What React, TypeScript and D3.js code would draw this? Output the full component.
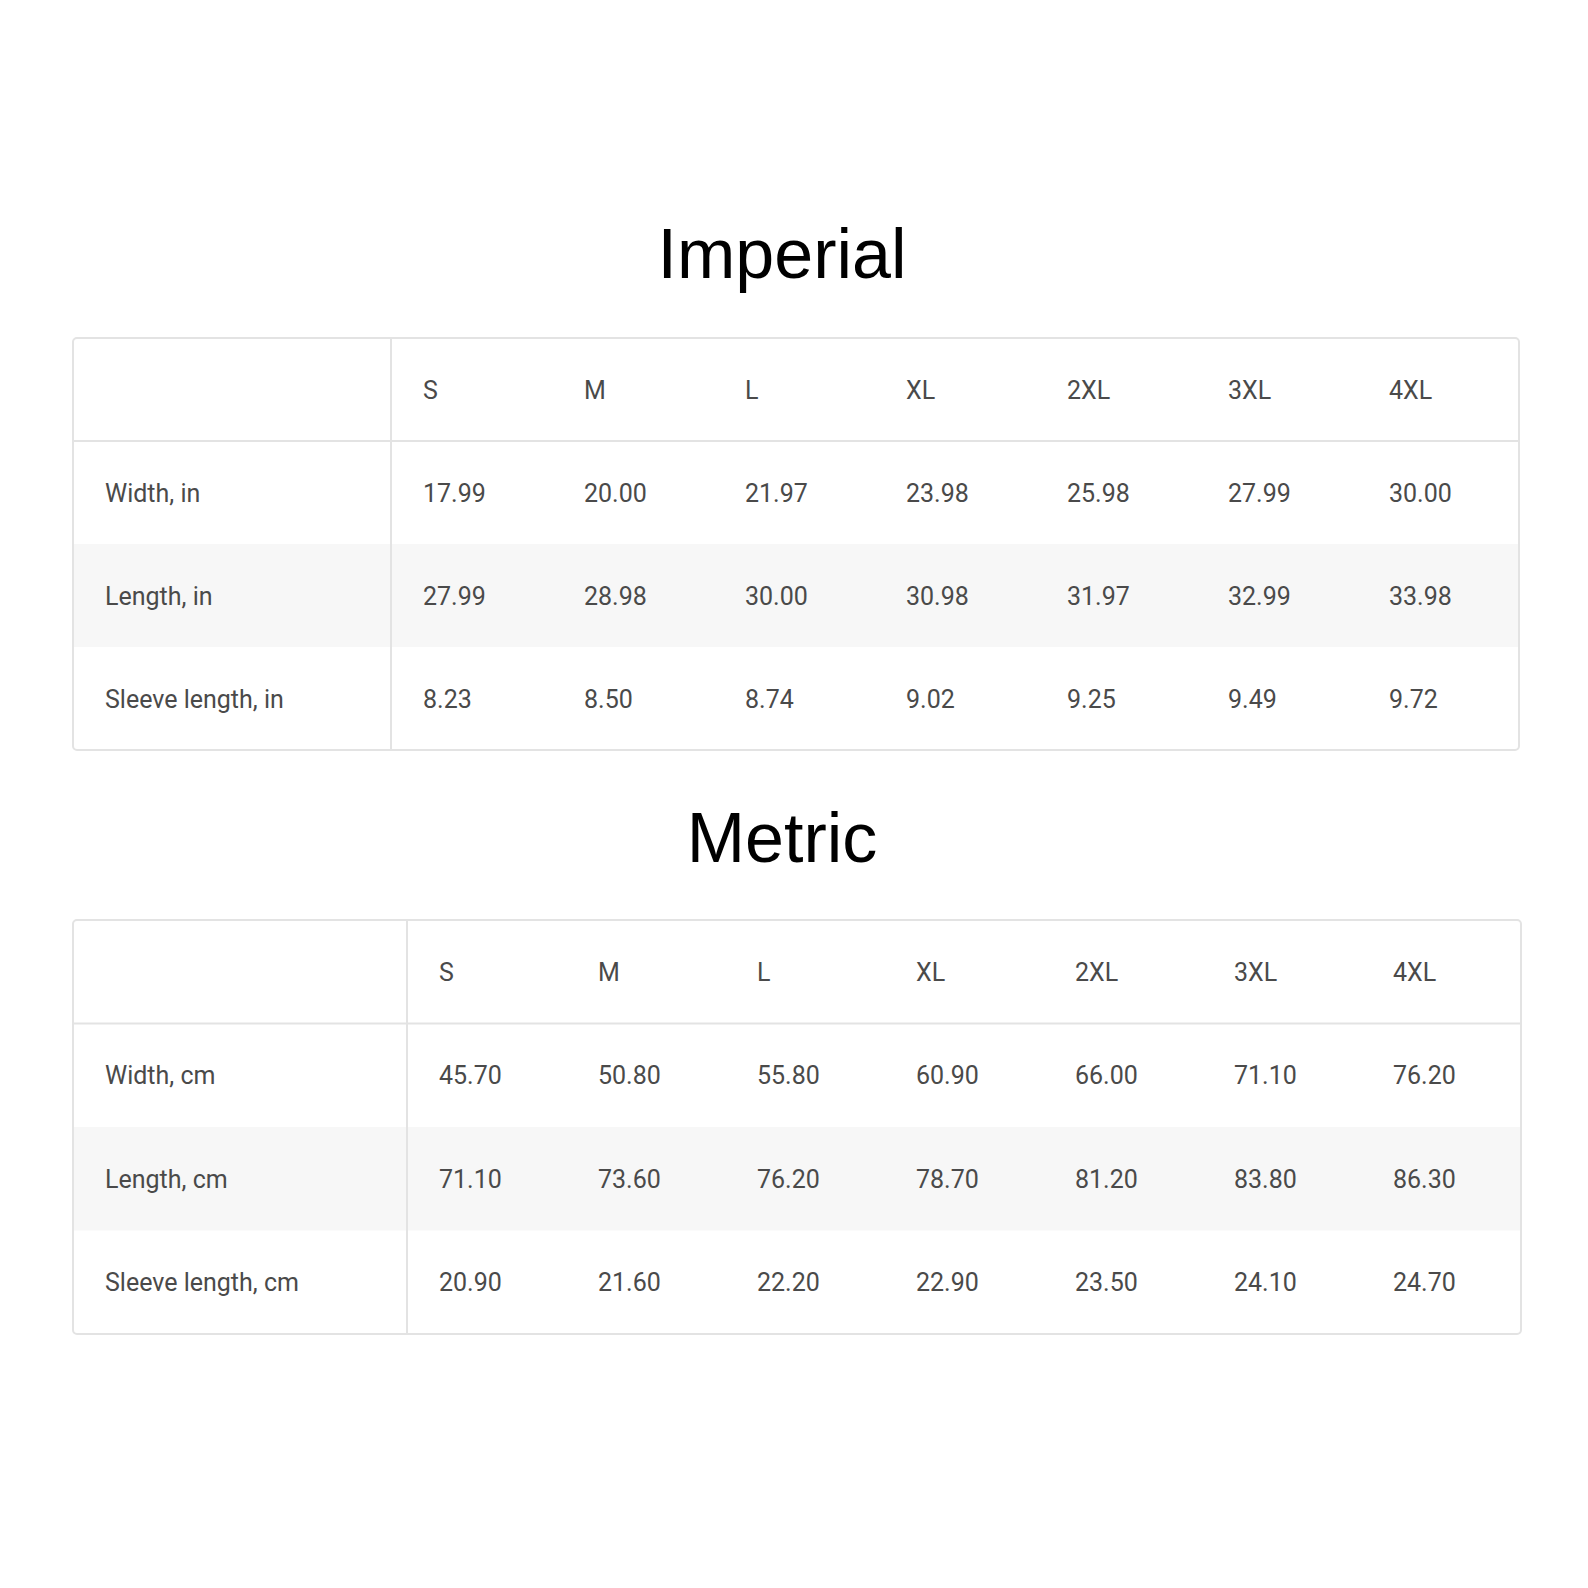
import React from "react";
import * as d3 from "d3";

const sizes = ["S", "M", "L", "XL", "2XL", "3XL", "4XL"];
const imperialRows = ["Width, in", "Length, in", "Sleeve length, in"];
const imperialWidth = ["17.99", "20.00", "21.97", "23.98", "25.98", "27.99", "30.00"];
const imperialLength = ["27.99", "28.98", "30.00", "30.98", "31.97", "32.99", "33.98"];
const imperialSleeve = ["8.23", "8.50", "8.74", "9.02", "9.25", "9.49", "9.72"];
const metricRows = ["Width, cm", "Length, cm", "Sleeve length, cm"];
const metricWidth = ["45.70", "50.80", "55.80", "60.90", "66.00", "71.10", "76.20"];
const metricLength = ["71.10", "73.60", "76.20", "78.70", "81.20", "83.80", "86.30"];
const metricSleeve = ["20.90", "21.60", "22.20", "22.90", "23.50", "24.10", "24.70"];

type TP = { title: string; titleY: number; x0: number; x1: number; y0: number; y1: number; divX: number; firstCol: number; colStep: number; rows: string[]; data: string[][] };

function Table({ title, titleY, x0, x1, y0, y1, divX, firstCol, colStep, rows, data }: TP) {
  const y = d3.scaleBand<number>().domain([0, 1, 2, 3]).range([y0, y1]);
  const x = d3.scaleLinear().domain([0, 6]).range([firstCol, firstCol + 6 * colStep]);
  const h = y.bandwidth();
  const txt = { fontFamily: "Roboto, sans-serif", fontSize: 25, fill: "#4a4a4a" };
  return (
    <g>
      <text x={782} y={titleY} textAnchor="middle" fontFamily="'Liberation Sans Narrow', 'Liberation Sans', sans-serif" fontSize={70} fill="#000">{title}</text>
      <rect x={x0} y={y(2)} width={x1 - x0} height={h} fill="#f7f7f7" />
      <rect x={x0} y={y0} width={x1 - x0} height={y1 - y0} rx={4} fill="none" stroke="#e3e3e3" strokeWidth={2} />
      <line x1={divX} x2={divX} y1={y0} y2={y1} stroke="#e3e3e3" strokeWidth={2} />
      <line x1={x0} x2={x1} y1={y(1)} y2={y(1)} stroke="#e3e3e3" strokeWidth={2} />
      {sizes.map((s, i) => (
        <text key={s} x={x(i)} y={y(0)! + h / 2 + 9} {...txt}>{s}</text>
      ))}
      {rows.map((r, ri) => (
        <g key={r}>
          <text x={105} y={y(ri + 1)! + h / 2 + 9} {...txt}>{r}</text>
          {data[ri].map((v, i) => (
            <text key={i} x={x(i)} y={y(ri + 1)! + h / 2 + 9} {...txt}>{v}</text>
          ))}
        </g>
      ))}
    </g>
  );
}

export default function App() {
  return (
    <svg width={1588} height={1588} style={{ display: "block", position: "absolute", left: 0, top: 0 }}>
      <rect width={1588} height={1588} fill="#fff" />
      <Table title="Imperial" titleY={278} x0={73} x1={1519} y0={338} y1={750} divX={391} firstCol={423} colStep={161}
        rows={imperialRows} data={[imperialWidth, imperialLength, imperialSleeve]} />
      <Table title="Metric" titleY={862} x0={73} x1={1521} y0={920} y1={1334} divX={407} firstCol={439} colStep={159}
        rows={metricRows} data={[metricWidth, metricLength, metricSleeve]} />
    </svg>
  );
}
